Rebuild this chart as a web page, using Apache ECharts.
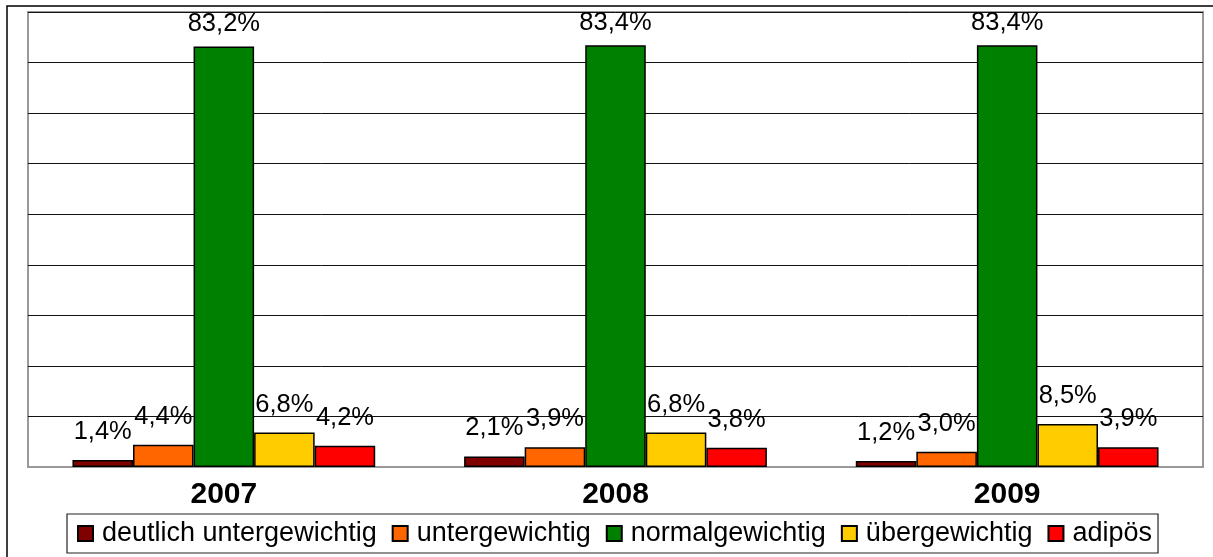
<!DOCTYPE html>
<html>
<head>
<meta charset="utf-8">
<script src="https://cdn.jsdelivr.net/npm/echarts@6/dist/echarts.min.js"></script>
<style>
  html, body { margin: 0; padding: 0; background: #fff; }
</style>
</head>
<body>
<div id="chart1" style="width:1213px;height:557px"></div>
<script>
// Jahre (Kategorien)
var years = ['2007', '2008', '2009'];
// Anteile in Prozent je Gewichtsklasse
var deutlichUnter = [1.4, 2.1, 1.2];
var unter = [4.4, 3.9, 3.0];
var normal = [83.2, 83.4, 83.4];
var ueber = [6.8, 6.8, 8.5];
var adipoes = [4.2, 3.8, 3.9];
var seriesNames = ['deutlich untergewichtig', 'untergewichtig', 'normalgewichtig', 'übergewichtig', 'adipös'];
var seriesData = [deutlichUnter, unter, normal, ueber, adipoes];
var colorList = ['#800000', '#ff6600', '#008000', '#ffcc00', '#ff0000'];

var myChart1 = echarts.init(document.getElementById('chart1'));

var series = seriesNames.map(function (name, i) {
    return {
        name: name,
        type: 'bar',
        data: seriesData[i],
        barGap: '0%',
        barCategoryGap: '22.7%',
        itemStyle: {
            color: colorList[i],
            borderColor: '#000',
            borderWidth: 1.5
        },
        label: {
            show: true,
            position: 'top',
            distance: i === 2 ? 9 : 15,
            color: '#000',
            fontFamily: 'Liberation Sans',
            fontSize: 25.5,
            formatter: function (p) {
                return p.value.toFixed(1).replace('.', ',') + '%';
            }
        }
    };
});

var option = {
    animation: false,
    textStyle: { fontFamily: 'Liberation Sans' },
    graphic: [{
        type: 'rect',
        shape: { x: 7, y: 6, width: 1230, height: 570 },
        style: { fill: 'none', stroke: '#000', lineWidth: 1.5 },
        z: -1
    }],
    grid: {
        left: 28,
        right: 10,
        top: 12,
        bottom: 90,
        show: true,
        borderColor: '#999',
        borderWidth: 2,
        backgroundColor: '#fff'
    },
    legend: {
        left: 67,
        top: 514,
        width: 1140,
        padding: [6, 6, 6, 10],
        itemWidth: 15,
        itemHeight: 15,
        itemGap: 15,
        icon: 'rect',
        borderColor: '#222',
        borderWidth: 1.2,
        textStyle: {
            fontFamily: 'Liberation Sans',
            fontSize: 27,
            color: '#000',
            padding: [0, 0, 0, 4]
        },
        data: seriesNames
    },
    xAxis: {
        type: 'category',
        data: years,
        axisTick: { show: false },
        axisLine: { lineStyle: { color: '#999', width: 2 } },
        axisLabel: {
            margin: 13,
            color: '#000',
            fontFamily: 'Liberation Sans',
            fontWeight: 'bold',
            fontSize: 30
        }
    },
    yAxis: {
        type: 'value',
        min: 0,
        max: 90,
        interval: 10,
        axisLabel: { show: false },
        axisLine: { show: false },
        axisTick: { show: false },
        splitLine: { lineStyle: { color: '#111', width: 1 } }
    },
    series: series
};

myChart1.setOption(option);
</script>
</body>
</html>
